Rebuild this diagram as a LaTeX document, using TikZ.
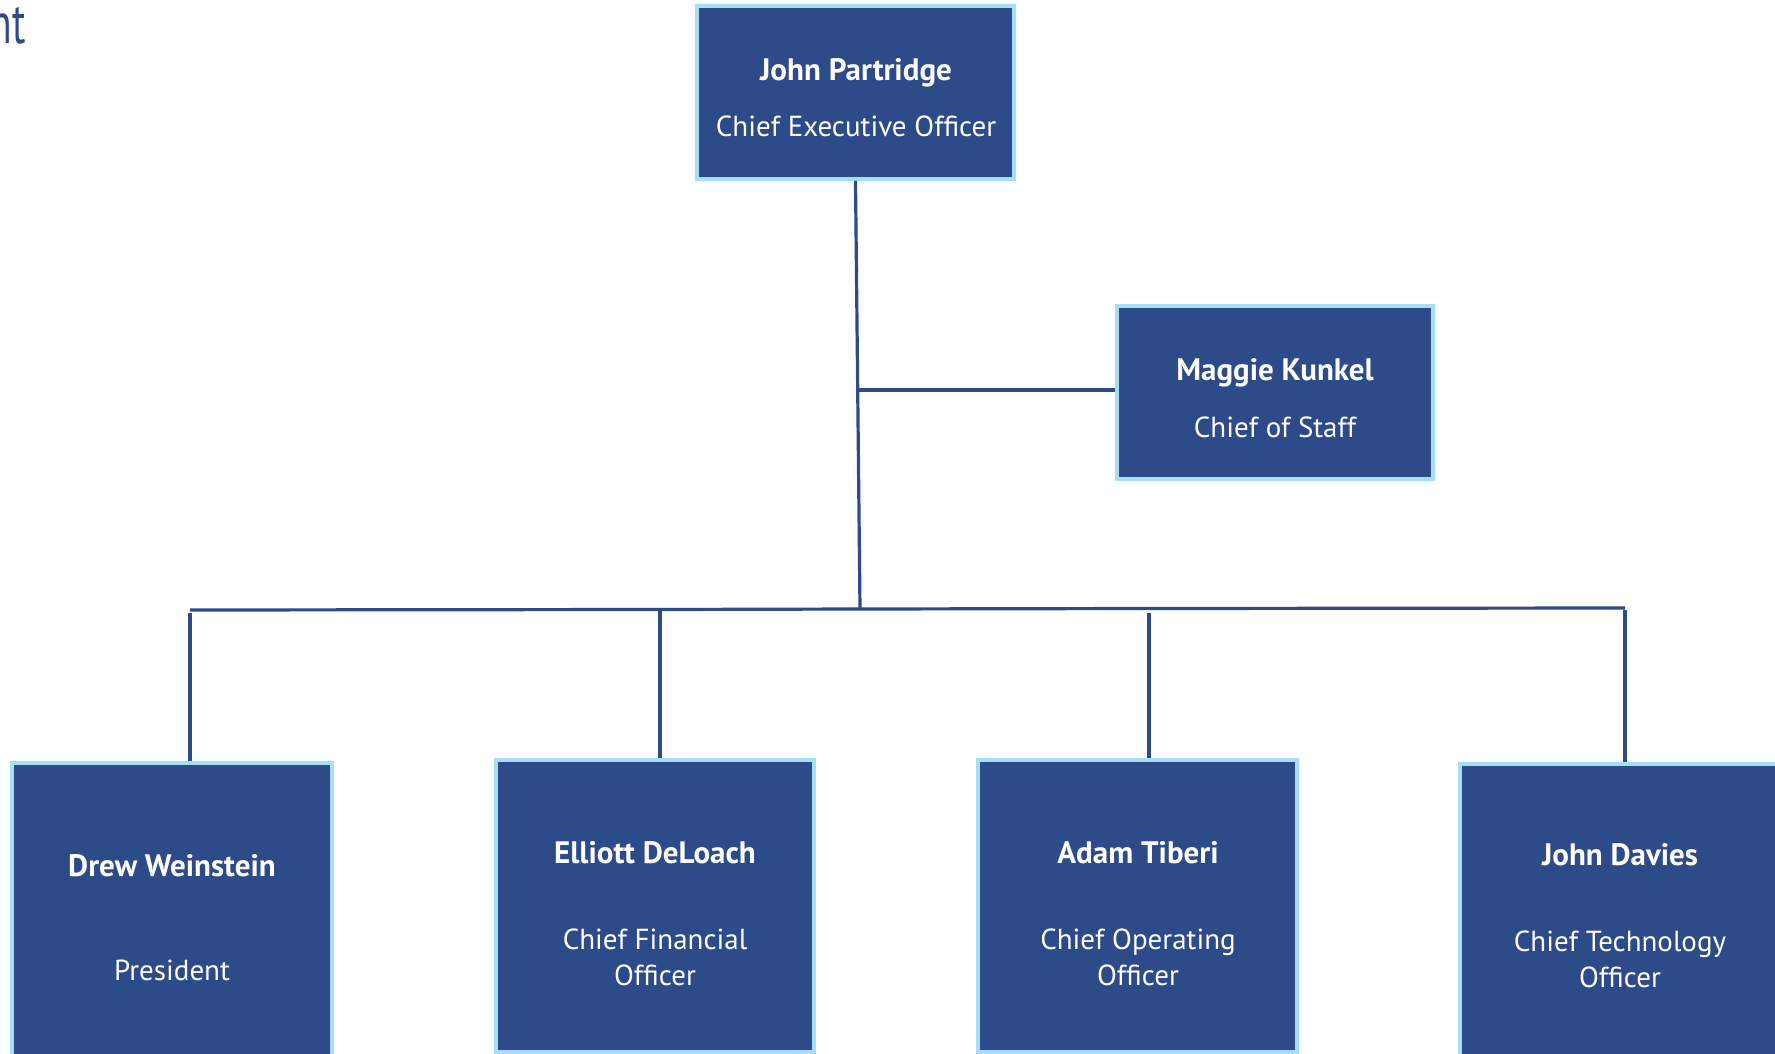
\documentclass[tikz,border=0pt]{standalone}
\usepackage{fontspec}
\setmainfont{PT Sans}
\definecolor{boxblue}{RGB}{45,74,137}
\definecolor{edgeblue}{RGB}{166,222,245}
\begin{document}
\begin{tikzpicture}[x=1pt,y=-1pt,
  orgbox/.style={draw=edgeblue,fill=boxblue,line width=3.5pt,inner sep=0pt},
  namet/.style={text=white,font=\fontsize{31}{36}\selectfont\bfseries,inner sep=0pt},
  rolet/.style={text=white,font=\fontsize{29}{36}\selectfont,align=center,inner sep=0pt},
  link/.style={draw=boxblue,line width=3.2pt}]
\useasboundingbox (0,0) rectangle (1775,1054);
% title fragment
\node[anchor=base east,text=boxblue,font=\fontsize{58}{64}\selectfont,inner sep=0pt,xscale=0.68] (title) at (26,44) {nt};
% boxes
\node[orgbox,minimum width=317pt,minimum height=173pt] (ceo) at (855.5,92.5) {};
\node[orgbox,minimum width=316pt,minimum height=173pt] (cos) at (1275,392.5) {};
\node[orgbox,minimum width=320pt,minimum height=307pt] (pres) at (172,916.5) {};
\node[orgbox,minimum width=318pt,minimum height=292pt] (cfo) at (655,906) {};
\node[orgbox,minimum width=319pt,minimum height=292pt] (coo) at (1137.5,906) {};
\node[orgbox,minimum width=319pt,minimum height=306pt] (cto) at (1619.5,917) {};
% texts
\node[namet] (ceoName) at (856,73) {John Partridge};
\node[rolet] (ceoRole) at (856,126) {Chief Executive Officer};
\node[namet] (cosName) at (1275,373) {Maggie Kunkel};
\node[rolet] (cosRole) at (1275,427) {Chief of Staff};
\node[namet] (presName) at (172,866) {Drew Weinstein};
\node[rolet] (presRole) at (172,970) {President};
\node[namet] (cfoName) at (655,853) {Elliott DeLoach};
\node[rolet] (cfoRole) at (655,957) {Chief Financial\\Officer};
\node[namet] (cooName) at (1138,853) {Adam Tiberi};
\node[rolet] (cooRole) at (1138,957) {Chief Operating\\Officer};
\node[namet] (ctoName) at (1620,855) {John Davies};
\node[rolet] (ctoRole) at (1620,959) {Chief Technology\\Officer};
% connectors
\coordinate (hub) at (860,609);
\coordinate (side) at (858.5,390);
\coordinate (busL) at (190,610);
\coordinate (busR) at (1625,608);
\coordinate (dCfo) at (660,609.5);
\coordinate (dCoo) at (1149,608.5);
\draw[link] (ceo.south) -- (hub);
\draw[link] (side) -- (cos.west |- side);
\draw[link] (busL) -- (dCfo) -- (hub) -- (dCoo) -- (busR);
\draw[link] ([yshift=-3pt]busL) -- (busL |- pres.north);
\draw[link] (dCfo) -- (dCfo |- cfo.north);
\draw[link] ([yshift=-4pt]dCoo) -- (dCoo |- coo.north);
\draw[link] ([yshift=-2pt]busR) -- (busR |- cto.north);
\end{tikzpicture}
\end{document}
